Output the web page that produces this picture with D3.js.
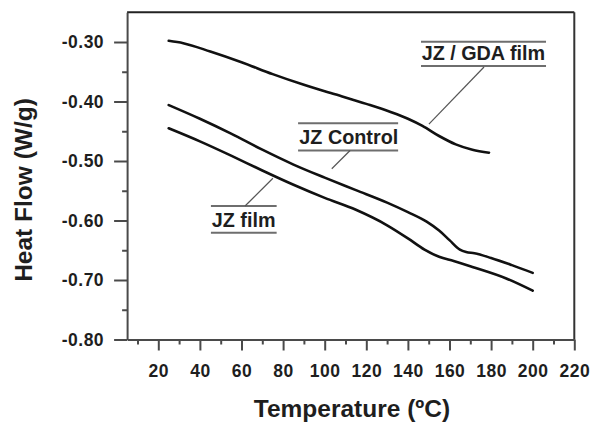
<!DOCTYPE html>
<html>
<head>
<meta charset="utf-8">
<script src="https://cdn.jsdelivr.net/npm/d3@7"></script>
<style>
  html, body { margin: 0; padding: 0; background: #fff; }
  svg { display: block; font-family: "Liberation Sans", Arial, sans-serif; }
</style>
</head>
<body>
<svg id="chart" width="591" height="423"></svg>
<script>
// ---- data ----
const gdaTemp  = [25, 32, 45, 60, 75, 90, 105, 120, 132, 140, 147, 155, 163, 171, 179];
const gdaFlow  = [-0.298, -0.302, -0.316, -0.334, -0.354, -0.372, -0.388, -0.404, -0.418, -0.429, -0.441, -0.458, -0.472, -0.481, -0.486];

const controlTemp = [25, 40, 55, 70, 85, 100, 115, 130, 140, 149, 155, 160, 165, 168, 172, 180, 190, 200];
const controlFlow = [-0.406, -0.429, -0.454, -0.481, -0.506, -0.528, -0.549, -0.570, -0.586, -0.602, -0.617, -0.633, -0.649, -0.653, -0.655, -0.663, -0.675, -0.688];

const filmTemp = [25, 40, 55, 70, 85, 100, 115, 130, 140, 148, 155, 162, 171, 187, 200];
const filmFlow = [-0.445, -0.467, -0.491, -0.516, -0.540, -0.562, -0.582, -0.608, -0.630, -0.649, -0.661, -0.668, -0.678, -0.697, -0.718];

const xMajorTicks = [20, 40, 60, 80, 100, 120, 140, 160, 180, 200, 220];
const xMinorTicks = [10, 30, 50, 70, 90, 110, 130, 150, 170, 190, 210];
const yMajorTicks = [-0.30, -0.40, -0.50, -0.60, -0.70, -0.80];
const yMinorTicks = [-0.35, -0.45, -0.55, -0.65, -0.75];

const seriesNames = ["JZ / GDA film", "JZ Control", "JZ film"];
const xTitle = "Temperature (ºC)";
const yTitle = "Heat Flow (W/g)";

// ---- layout ----
const svg = d3.select("#chart");
const x = d3.scaleLinear().domain([5, 220]).range([127.1, 574.3]);
const y = d3.scaleLinear().domain([-0.80, -0.25]).range([339.5, 12.25]);

const axisColor = "#4a4a4a";
const textColor = "#1e1e1e";

// frame top + right
svg.append("line").attr("x1", x(5)).attr("x2", x(220)).attr("y1", y(-0.25)).attr("y2", y(-0.25))
  .attr("stroke", "#222").attr("stroke-width", 2);
svg.append("line").attr("x1", x(220)).attr("x2", x(220)).attr("y1", y(-0.25)).attr("y2", y(-0.80))
  .attr("stroke", "#333").attr("stroke-width", 2);

// x axis
const gx = svg.append("g").attr("transform", `translate(0,${y(-0.80)})`);
gx.call(d3.axisBottom(x).tickValues(xMinorTicks).tickSize(5).tickFormat(""));
gx.select(".domain").remove();
gx.selectAll(".tick line").attr("stroke", axisColor).attr("stroke-width", 2);
const gx2 = svg.append("g").attr("transform", `translate(0,${y(-0.80)})`);
gx2.call(d3.axisBottom(x).tickValues(xMajorTicks).tickSize(11).tickSizeOuter(0).tickPadding(14)
  .tickFormat(d3.format("d")));
gx2.select(".domain").attr("stroke", axisColor).attr("stroke-width", 2);
gx2.selectAll(".tick line").attr("stroke", axisColor).attr("stroke-width", 2);
gx2.selectAll(".tick text").attr("fill", textColor).attr("font-size", 17.5).attr("font-weight", "bold")
  .attr("letter-spacing", 0.5).attr("font-family", '"Liberation Sans", Arial, sans-serif');

// y axis
const gy = svg.append("g").attr("transform", `translate(${x(5)},0)`);
gy.call(d3.axisLeft(y).tickValues(yMinorTicks).tickSize(5).tickFormat(""));
gy.select(".domain").remove();
gy.selectAll(".tick line").attr("stroke", axisColor).attr("stroke-width", 2);
const gy2 = svg.append("g").attr("transform", `translate(${x(5)},0)`);
gy2.call(d3.axisLeft(y).tickValues(yMajorTicks).tickSize(13).tickSizeOuter(0).tickPadding(10)
  .tickFormat(d3.format(".2f")));
gy2.select(".domain").attr("stroke", axisColor).attr("stroke-width", 2);
gy2.selectAll(".tick line").attr("stroke", axisColor).attr("stroke-width", 2);
gy2.selectAll(".tick text").attr("fill", textColor).attr("font-size", 17.5).attr("font-weight", "bold")
  .attr("letter-spacing", 0.5).attr("font-family", '"Liberation Sans", Arial, sans-serif')
  .text(d => d3.format(".2f")(d).replace("−", "-"));

// axis titles
svg.append("text").attr("x", 352).attr("y", 417).attr("text-anchor", "middle")
  .attr("font-size", 24.5).attr("font-weight", "bold").attr("fill", textColor).text(xTitle);
svg.append("text").attr("transform", "translate(32,190) rotate(-90)").attr("text-anchor", "middle")
  .attr("font-size", 24.5).attr("font-weight", "bold").attr("fill", textColor).text(yTitle);

// curves
const line = d3.line().x(d => x(d[0])).y(d => y(d[1])).curve(d3.curveMonotoneX);
[[gdaTemp, gdaFlow], [controlTemp, controlFlow], [filmTemp, filmFlow]].forEach(([t, f]) => {
  svg.append("path").datum(t.map((v, i) => [v, f[i]]))
    .attr("d", line).attr("fill", "none").attr("stroke", "#111").attr("stroke-width", 2.6)
    .attr("stroke-linecap", "round").attr("stroke-linejoin", "round");
});

// annotations (positions in data units)
const annotations = [
  { name: seriesNames[0], tx: 146.6, base: -0.3303, top: -0.2995, bot: -0.3403, x0: 146.3, x1: 206.4,
    lead: [[176.6, -0.342], [150.1, -0.438]] },
  { name: seriesNames[1], tx: 87.8, base: -0.4714, top: -0.4366, bot: -0.4824, x0: 87.2, x1: 135.3,
    lead: [[112.2, -0.4824], [103.4, -0.513]] },
  { name: seriesNames[2], tx: 45.7, base: -0.6114, top: -0.5756, bot: -0.6205, x0: 45.3, x1: 76.9,
    lead: [[61.7, -0.5756], [75.1, -0.529]] }
];
annotations.forEach(a => {
  svg.append("text").attr("x", x(a.tx)).attr("y", y(a.base)).attr("font-size", 19.8)
    .attr("font-weight", "bold").attr("fill", textColor).text(a.name);
  [a.top, a.bot].forEach(v => {
    svg.append("line").attr("x1", x(a.x0)).attr("x2", x(a.x1)).attr("y1", y(v)).attr("y2", y(v))
      .attr("stroke", "#6e6e6e").attr("stroke-width", 2);
  });
  svg.append("line").attr("x1", x(a.lead[0][0])).attr("y1", y(a.lead[0][1]))
    .attr("x2", x(a.lead[1][0])).attr("y2", y(a.lead[1][1]))
    .attr("stroke", "#555").attr("stroke-width", 1.2);
});
</script>
</body>
</html>
